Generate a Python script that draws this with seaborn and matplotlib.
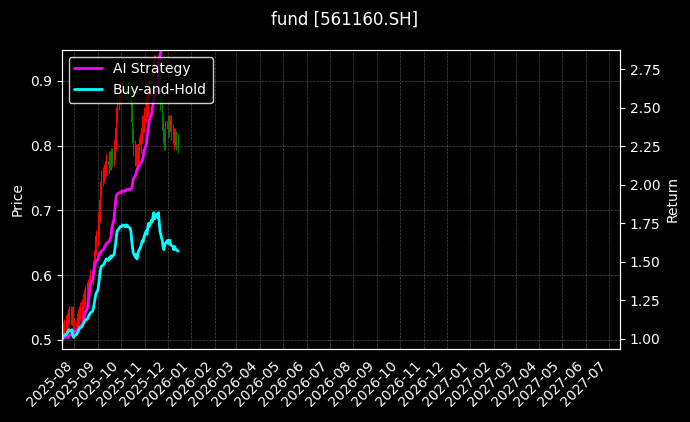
import matplotlib
matplotlib.use("Agg")
import matplotlib.pyplot as plt
import matplotlib.dates as mdates
import seaborn as sns
import pandas as pd
import numpy as np

close = [0.510,0.516,0.521,0.526,0.524,0.530,0.536,0.541,0.535,0.540,
         0.521,0.515,0.520,0.526,0.530,0.536,0.541,0.546,0.551,0.556,
         0.561,0.566,0.571,0.577,0.582,0.587,0.592,0.597,0.602,0.612,
         0.627,0.643,0.658,0.673,0.694,0.714,0.734,0.750,0.755,0.760,
         0.765,0.770,0.775,0.770,0.780,0.775,0.785,0.780,0.790,0.806,
         0.826,0.847,0.867,0.877,0.882,0.882,0.882,0.887,0.882,0.887,
         0.882,0.887,0.882,0.877,0.867,0.836,0.816,0.796,0.780,0.790,
         0.775,0.785,0.801,0.816,0.826,0.836,0.831,0.847,0.867,0.857,
         0.877,0.892,0.882,0.903,0.898,0.918,0.928,0.908,0.923,0.913,
         0.928,0.898,0.867,0.836,0.816,0.806,0.816,0.826,0.836,0.826,
         0.836,0.836,0.821,0.816,0.806,0.816,0.811,0.806,0.801]
ai_strategy = [1.00,1.00,1.01,1.01,1.02,1.02,1.01,1.02,1.03,1.03,
               1.04,1.04,1.05,1.05,1.06,1.07,1.07,1.08,1.09,1.10,
               1.12,1.14,1.17,1.20,1.23,1.27,1.31,1.35,1.39,1.43,
               1.46,1.48,1.50,1.52,1.54,1.55,1.56,1.57,1.58,1.59,
               1.60,1.61,1.62,1.63,1.64,1.65,1.66,1.72,1.78,1.84,
               1.89,1.93,1.94,1.95,1.95,1.95,1.96,1.96,1.96,1.96,
               1.97,1.97,1.97,1.97,1.97,1.98,2.00,2.04,2.06,2.08,
               2.10,2.11,2.12,2.14,2.15,2.16,2.18,2.22,2.26,2.30,
               2.34,2.38,2.42,2.46,2.50,2.52,2.55,2.58,2.62,2.66,
               2.72,2.78,2.84,2.90,2.95,3.00,3.00,3.00,3.00,3.00,
               3.00,3.00,3.00,3.00,3.00,3.00,3.00,3.00,3.00]
buy_hold = [1.00,1.01,1.02,1.03,1.03,1.04,1.05,1.06,1.05,1.06,
            1.02,1.01,1.02,1.03,1.04,1.05,1.06,1.07,1.08,1.09,
            1.10,1.11,1.12,1.13,1.14,1.15,1.16,1.17,1.18,1.20,
            1.23,1.26,1.29,1.32,1.36,1.40,1.44,1.47,1.48,1.49,
            1.50,1.51,1.52,1.51,1.53,1.52,1.54,1.53,1.55,1.58,
            1.62,1.66,1.70,1.72,1.73,1.73,1.73,1.74,1.73,1.74,
            1.73,1.74,1.73,1.72,1.70,1.64,1.60,1.56,1.53,1.55,
            1.52,1.54,1.57,1.60,1.62,1.64,1.63,1.66,1.70,1.68,
            1.72,1.75,1.73,1.77,1.76,1.80,1.82,1.78,1.81,1.79,
            1.82,1.76,1.70,1.64,1.60,1.58,1.60,1.62,1.64,1.62,
            1.64,1.64,1.61,1.60,1.58,1.60,1.59,1.58,1.57]

n = len(buy_hold)
dates = pd.bdate_range("2025-07-16", periods=n)
df = pd.DataFrame({"date": dates, "close": close[:n], "ai": ai_strategy[:n], "bh": buy_hold[:n]})
df["open"] = df["close"].shift(1).fillna(df["close"].iloc[0] * 0.99)

sns.set_style("dark")
plt.rcParams.update({"figure.facecolor": "black", "axes.facecolor": "black",
                     "text.color": "white", "axes.labelcolor": "white",
                     "xtick.color": "white", "ytick.color": "white",
                     "axes.edgecolor": "white"})
plt.rcParams['font.family'] = ['DejaVu Sans']

fig = plt.figure(figsize=(6.9, 4.22), dpi=100)
ax = fig.add_axes([0.0894, 0.173, 0.8092, 0.709])
ax.set_facecolor("black")
up = df["close"] >= df["open"]
cols = np.where(up, "red", "green")
lo = np.minimum(df["open"], df["close"])
hi = np.maximum(df["open"], df["close"])
ax.vlines(df["date"], lo - 0.012, hi + 0.012, colors=cols, linewidth=0.8)
ax.bar(df["date"], hi - lo + 0.002, bottom=lo, width=0.9, color=cols, linewidth=0)
ax.set_ylim(0.486, 0.948)
ax.set_ylabel("Price")
ax.grid(True, color="gray", linestyle="--", linewidth=0.5, alpha=0.6)

ax2 = ax.twinx()
sns.lineplot(data=df, x="date", y="ai", ax=ax2, color="magenta", linewidth=2, label="AI Strategy")
sns.lineplot(data=df, x="date", y="bh", ax=ax2, color="cyan", linewidth=2, label="Buy-and-Hold")
ax2.set_ylim(0.935, 2.877)
ax2.set_ylabel("Return")
ax2.set_xlabel("")
leg = ax2.legend(loc="upper left", facecolor="black", edgecolor="white", fontsize=10)
for t in leg.get_texts():
    t.set_color("white")

ax.set_xlim(pd.Timestamp("2025-07-15 12:00"), pd.Timestamp("2027-07-15 16:00"))
ax.xaxis.set_major_locator(mdates.MonthLocator())
ax.xaxis.set_major_formatter(mdates.DateFormatter("%Y-%m"))
for lbl in ax.get_xticklabels():
    lbl.set_rotation(45); lbl.set_ha("right")
for a in (ax, ax2):
    for s in a.spines.values():
        s.set_color("white")
fig.suptitle("fund [561160.SH]", color="white", y=0.975)
fig.savefig("out.png", facecolor="black")
